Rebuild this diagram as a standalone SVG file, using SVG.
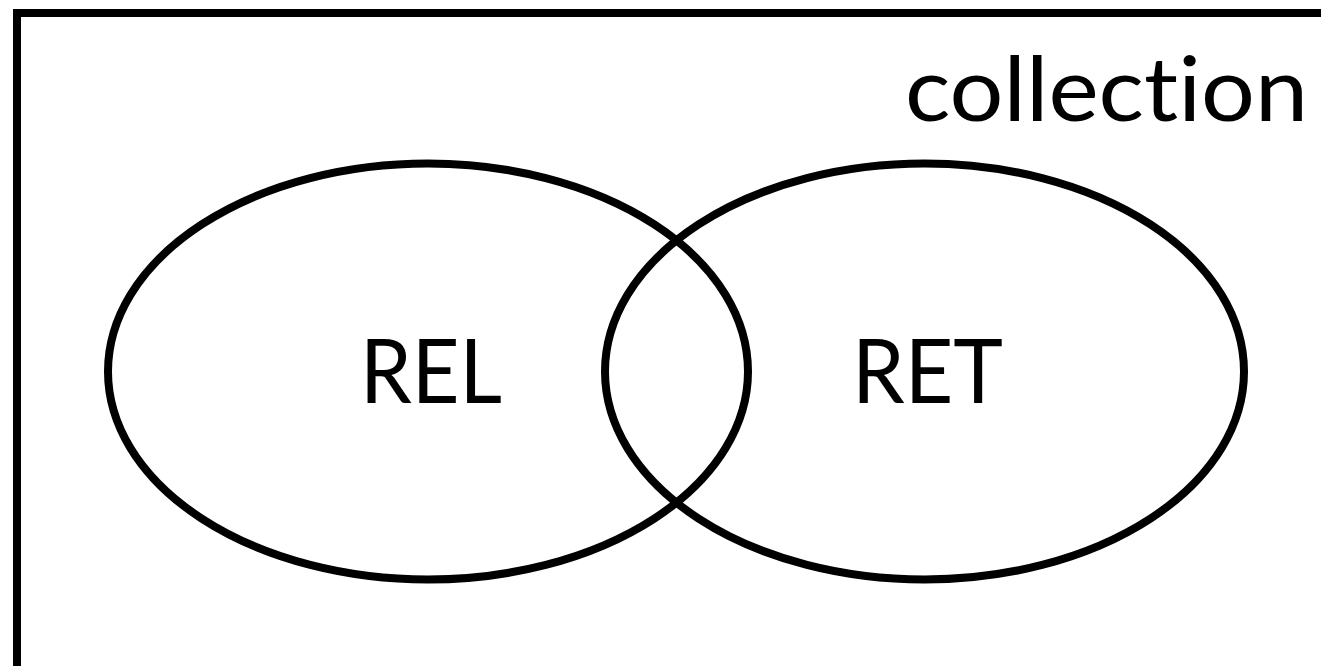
<svg xmlns="http://www.w3.org/2000/svg" width="1321" height="666" viewBox="0 0 1321 666">
<style>
.shape{fill:none;stroke:#000;stroke-width:8}
.lbl{font-family:Lato,"Liberation Sans",sans-serif;font-size:90px;fill:#000;font-variant-ligatures:none;font-feature-settings:"liga" 0}
</style>
<rect x="0" y="0" width="1321" height="666" fill="#fff"/>
<g id="collection">
<rect class="shape" x="17" y="13" width="1330" height="680"/>
<text class="lbl" x="905" y="121" textLength="403" lengthAdjust="spacingAndGlyphs">collection</text>
</g>
<g id="REL">
<ellipse class="shape" cx="428" cy="371.5" rx="320" ry="208"/>
<text class="lbl" x="360" y="403" textLength="142" lengthAdjust="spacingAndGlyphs">REL</text>
</g>
<g id="RET">
<ellipse class="shape" cx="924.5" cy="371.5" rx="319.5" ry="208"/>
<text class="lbl" x="852" y="403" textLength="151" lengthAdjust="spacingAndGlyphs">RET</text>
</g>
<g id="connectors"/>
</svg>
